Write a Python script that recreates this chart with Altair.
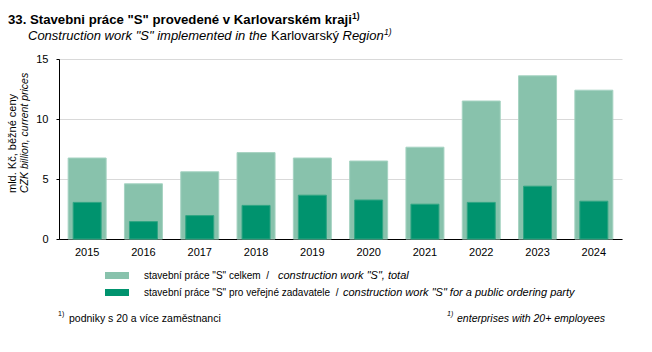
import altair as alt
import pandas as pd

years = ["2015", "2016", "2017", "2018", "2019", "2020", "2021", "2022", "2023", "2024"]
total = [6.75, 4.6, 5.6, 7.2, 6.75, 6.5, 7.65, 11.5, 13.6, 12.4]
public = [3.05, 1.45, 1.95, 2.8, 3.65, 3.25, 2.9, 3.05, 4.4, 3.15]
y_ticks = [0, 5, 10, 15]

df = pd.DataFrame({"year": years, "total": total, "public": public})

FONT = "Liberation Sans"
LIGHT = "#88c2ac"
DARK = "#00936e"
NB = "\u00a0"

W, H = 563, 180

base = alt.Chart(df)
x_enc = alt.X("year:O", title=None,
              scale=alt.Scale(paddingInner=0, paddingOuter=0),
              axis=alt.Axis(labelAngle=0, ticks=False, domainColor="#000000",
                            labelPadding=7, labelFontSize=11, labelColor="#000000"))

bars_total = base.mark_bar(size=38, color=LIGHT, stroke="#a6d3c2", strokeWidth=1).encode(
    x=x_enc,
    y=alt.Y("total:Q", title=None,
            scale=alt.Scale(domain=[0, 15], nice=False),
            axis=alt.Axis(values=y_ticks, grid=True, gridColor="#d9d9d9", domainColor="#000000",
                          tickColor="#000000", tickSize=3, labelPadding=8, labelFontSize=11,
                          labelColor="#000000")),
)
bars_public = base.mark_bar(size=28, color=DARK, stroke="#30a583", strokeWidth=1).encode(
    x=alt.X("year:O"),
    y=alt.Y("public:Q"),
)


def txt(text, x, y, size=11, weight="normal", style="normal", align="left", baseline="alphabetic", angle=0):
    return alt.Chart(pd.DataFrame({"t": [text]})).mark_text(
        font=FONT, fontSize=size, fontWeight=weight, fontStyle=style, align=align,
        baseline=baseline, angle=angle, color="#000000"
    ).encode(text="t:N", x=alt.value(x), y=alt.value(y))


def swatch(color, x1, x2, y1, y2):
    return alt.Chart(pd.DataFrame({"a": [0]})).mark_rect(color=color).encode(
        x=alt.value(x1), x2=alt.value(x2), y=alt.value(y1), y2=alt.value(y2))


texts = [
    txt('33. Stavebni práce "S" provedené v Karlovarském kraji', -51, -35, size=13.2, weight="bold"),
    txt("1)", 293, -40, size=8.5, weight="bold"),
    txt('Construction work "S" implemented in the', -31, -19, size=13, style="italic"),
    txt("Karlovarský", 212, -19, size=13),
    txt("Region", 283.5, -19, size=13, style="italic"),
    txt("1)", 325, -24, size=8.5, style="italic"),
    txt("mld. Kč, běžné ceny", -46, 134, size=11, align="left", baseline="middle", angle=270),
    txt("CZK billion, current prices", -34.5, 134, size=10.5, style="italic", align="left",
        baseline="middle", angle=270),
    swatch(LIGHT, 46, 70, 213, 220),
    swatch(DARK, 46, 70, 230, 237),
    txt('stavební práce "S" celkem' + NB + NB + "/", 85, 217, size=10, baseline="middle"),
    txt('construction work "S", total', 219, 217, size=11, style="italic", baseline="middle"),
    txt('stavební práce "S" pro veřejné zadavatele' + NB + NB + "/", 85, 234, size=10, baseline="middle"),
    txt('construction work "S" for a public ordering party', 284, 234, size=11, style="italic",
        baseline="middle"),
    txt("1)", -1, 257, size=7),
    txt("podniky s 20 a více zaměstnanci", 10, 260, size=10.5, baseline="middle"),
    txt("1)", 388, 257, size=7, style="italic"),
    txt("enterprises with 20+ employees", 546, 260, size=10.5, style="italic", align="right",
        baseline="middle"),
]

chart = alt.layer(bars_total, bars_public, *texts).properties(
    width=W, height=H,
    autosize=alt.AutoSizeParams(type="none"),
    padding={"left": 59, "top": 59, "right": 30, "bottom": 113},
).configure(font=FONT).configure_view(stroke=None).configure_axis(labelFont=FONT)

chart.save("out.html", embed_options={"renderer": "svg", "actions": False})
